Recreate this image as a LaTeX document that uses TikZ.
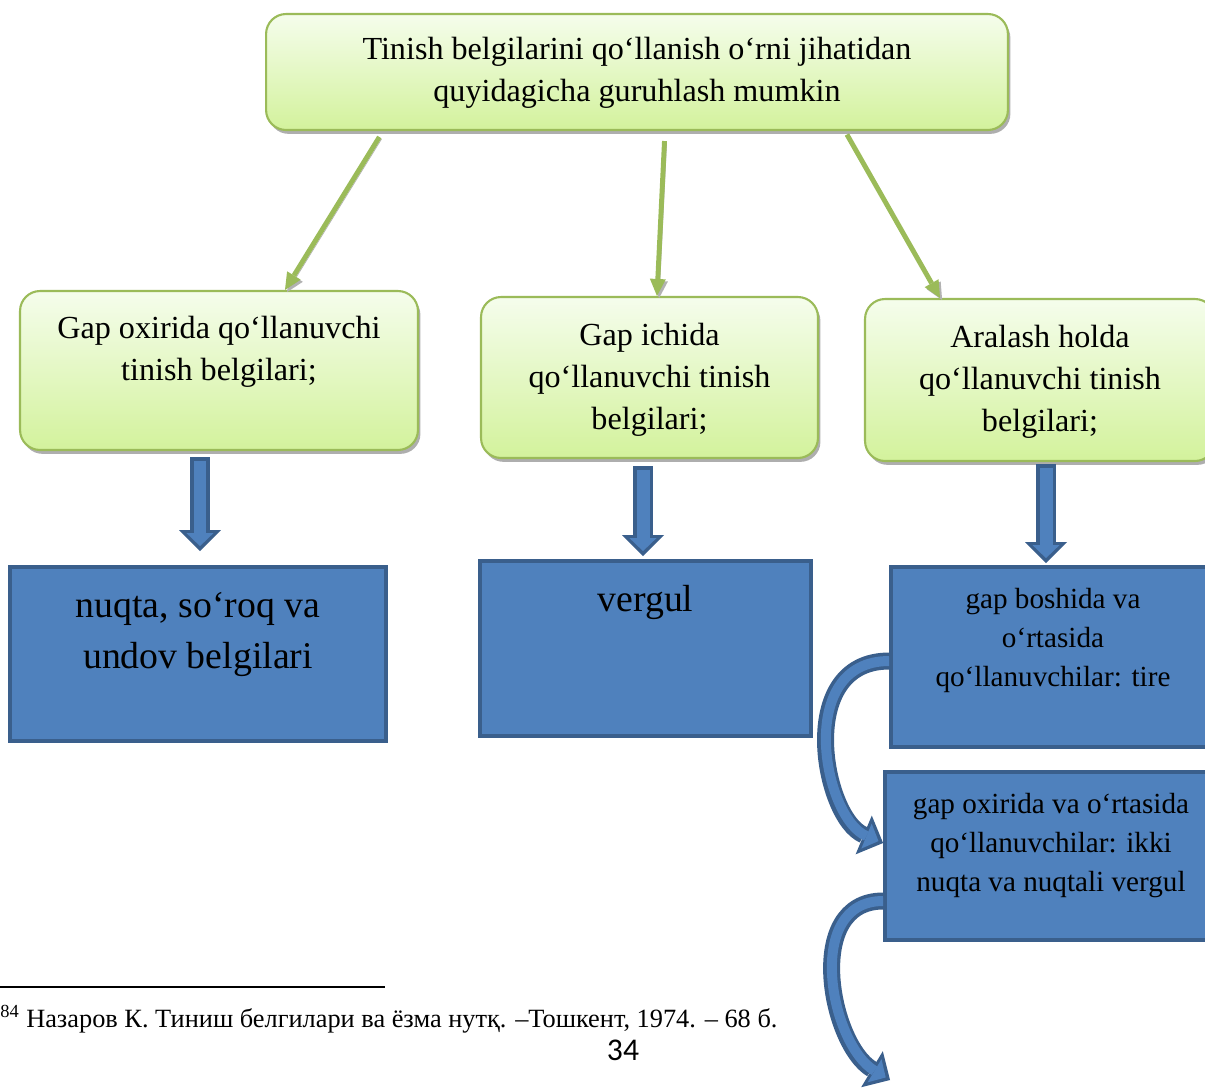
\documentclass[tikz,border=0pt]{standalone}
\usepackage{fontspec}
\setmainfont{Liberation Serif}
\newfontfamily\pagefont{Carlito}
\usetikzlibrary{arrows.meta,shadows}
\definecolor{gtop}{HTML}{F5FDEC}
\definecolor{gbot}{HTML}{D3F29C}
\definecolor{gline}{HTML}{9BBB59}
\definecolor{bfill}{HTML}{4F81BD}
\definecolor{bline}{HTML}{3A5F8C}
\newcommand{\toptext}[3]{\parbox[c][#1][t]{#2}{\centering\strut #3}}

\begin{document}
\begin{tikzpicture}[
  x=0.02cm,y=-0.02cm,
  gbox/.style={draw=gline, line width=1.2pt, rounded corners=0.4cm, top color=gtop, bottom color=gbot, inner sep=0pt, font=\fontsize{18.3}{24}\selectfont, drop shadow={shadow xshift=1.4pt, shadow yshift=-2.2pt, fill=black!45, opacity=0.7}},
  bbox/.style={draw=bline, line width=2.2pt, fill=bfill, inner sep=0pt},
  garr/.style={-{Triangle[length=0.34cm,width=0.32cm,line width=0pt]}, draw=gline, line width=2.8pt, preaction={draw=black!30, transform canvas={shift={(1.2pt,-1.2pt)}}}},
  blkout/.style={draw=bline, line width=0.4cm, -{Triangle[length=0.42cm,width=0.84cm,line width=0pt]}},
  blkin/.style={draw=bfill, line width=0.26cm, -{Triangle[length=0.26cm,width=0.54cm,line width=0pt]}, shorten >=0.1cm, shorten <=0.07cm},
  cout/.style={draw=bline, line width=0.34cm, -{Triangle[length=0.42cm,width=0.84cm,line width=0pt]}},
  cin/.style={draw=bfill, line width=0.2cm, -{Triangle[length=0.26cm,width=0.54cm,line width=0pt]}, shorten >=0.1cm}
]
\useasboundingbox (0,0) rectangle (1205,1090);
\clip (0,0) rectangle (1205,1090);
\node[gbox, minimum width=14.84cm, minimum height=2.32cm] (top) at (637,72) {\toptext{1.7cm}{14cm}{Tinish belgilarini qo‘llanish o‘rni jihatidan\\quyidagicha guruhlash mumkin}};
\node[gbox, minimum width=7.96cm, minimum height=3.18cm] (l1) at (219,370.5) {\toptext{2.48cm}{7.6cm}{Gap oxirida qo‘llanuvchi\\tinish belgilari;}};
\node[gbox, minimum width=6.74cm, minimum height=3.22cm] (l2) at (649.5,377.5) {\toptext{2.48cm}{6.4cm}{Gap ichida\\qo‘llanuvchi tinish\\belgilari;}};
\node[gbox, minimum width=7.0cm, minimum height=3.24cm] (l3) at (1040,380) {\toptext{2.5cm}{6.6cm}{Aralash holda\\qo‘llanuvchi tinish\\belgilari;}};
\node[bbox, minimum width=7.52cm, minimum height=3.48cm, font=\fontsize{21.5}{29}\selectfont] (b1) at (198,654) {\toptext{2.89cm}{7.2cm}{nuqta, so‘roq va\\undov belgilari}};
\node[bbox, minimum width=6.62cm, minimum height=3.5cm, font=\fontsize{21.5}{29}\selectfont] (b2) at (645.5,648.5) {\toptext{2.91cm}{6.3cm}{vergul}};
\node[bbox, minimum width=6.48cm, minimum height=3.6cm, font=\fontsize{16.6}{22}\selectfont] (b3) at (1053,657) {\toptext{3.01cm}{6.2cm}{gap boshida va\\o‘rtasida\\qo‘llanuvchilar: tire}};
\node[bbox, minimum width=6.64cm, minimum height=3.36cm, font=\fontsize{16.6}{22}\selectfont] (b4) at (1051,856) {\toptext{2.77cm}{6.4cm}{gap oxirida va o‘rtasida\\qo‘llanuvchilar: ikki\\nuqta va nuqtali vergul}};
\coordinate (tip2) at (890,1080);
\draw[garr, shorten <=0.14cm] ([xshift=-5.08cm]top.south) -- ([xshift=1.32cm]l1.north);
\draw[garr, shorten <=0.2cm] ([xshift=0.56cm]top.south) -- ([xshift=0.15cm]l2.north);
\draw[garr, shorten <=0.08cm] ([xshift=4.16cm]top.south) -- ([xshift=-2cm]l3.north);
\draw[blkout, shorten <=0.12cm, shorten >=0.28cm] ([xshift=0.04cm]l1.south -| b1.north) -- ([xshift=0.04cm]b1.north);
\draw[blkin, shorten <=0.19cm, shorten >=0.38cm] ([xshift=0.04cm]l1.south -| b1.north) -- ([xshift=0.04cm]b1.north);
\draw[blkout, shorten <=0.14cm, shorten >=0.06cm] ([xshift=-0.05cm]l2.south -| b2.north) -- ([xshift=-0.05cm]b2.north);
\draw[blkin, shorten <=0.21cm, shorten >=0.16cm] ([xshift=-0.05cm]l2.south -| b2.north) -- ([xshift=-0.05cm]b2.north);
\draw[blkout, shorten <=0.04cm, shorten >=0.04cm] ([xshift=-0.14cm]l3.south -| b3.north) -- ([xshift=-0.14cm]b3.north);
\draw[blkin, shorten <=0.11cm, shorten >=0.14cm] ([xshift=-0.14cm]l3.south -| b3.north) -- ([xshift=-0.14cm]b3.north);
\draw[cout] ([yshift=-0.08cm]b3.west) .. controls +(-95,0) and +(-60,-25) .. ([yshift=0.26cm]b4.west);
\draw[cin] ([yshift=-0.08cm]b3.west) .. controls +(-95,0) and +(-60,-25) .. ([yshift=0.26cm]b4.west);
\draw[cout] ([yshift=-0.9cm]b4.west) .. controls +(-80,0) and +(-60,-36) .. (tip2);
\draw[cin] ([yshift=-0.9cm]b4.west) .. controls +(-80,0) and +(-60,-36) .. (tip2);
\draw[line width=0.7pt] (0,987) -- (385,987);
\node[anchor=base west, inner sep=0pt, font=\fontsize{15}{18}\selectfont] (fnote) at (0,1027) {\textsuperscript{84} Назаров К. Тиниш белгилари ва ёзма нутқ. –Тошкент, 1974. – 68 б.};
\node[font=\pagefont\fontsize{18}{22}\selectfont] (pnum) at (623,1050) {34};
\end{tikzpicture}
\end{document}
